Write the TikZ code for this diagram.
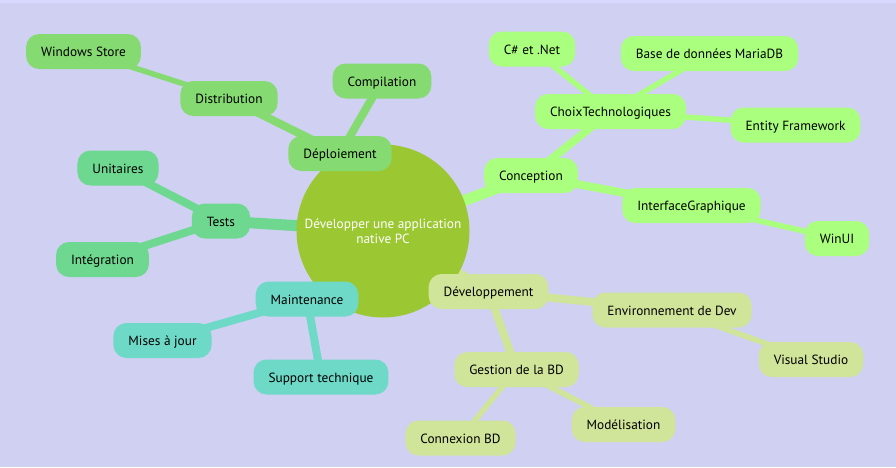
\documentclass[tikz,border=0pt]{standalone}
\usepackage{fontspec}
\setmainfont{PT Sans}
\usetikzlibrary{backgrounds}

\definecolor{bgcol}{HTML}{D0D0F2}
\definecolor{topcol}{HTML}{D8D8FF}
\definecolor{rootcol}{HTML}{9BC832}
\definecolor{depcol}{HTML}{86DA72}
\definecolor{testcol}{HTML}{6ED890}
\definecolor{maintcol}{HTML}{6FD9C8}
\definecolor{concol}{HTML}{ABFF7E}
\definecolor{devcol}{HTML}{D0E49A}

\begin{document}
\begin{tikzpicture}[
        x=1pt, y=-1pt,
        rootnode/.style={circle, fill=rootcol, minimum size=173pt, inner sep=0pt, align=center, text=white, font=\fontsize{13.3}{15}\selectfont},
        topic/.style={rectangle, rounded corners=13pt, minimum height=35pt, inner xsep=15pt, text height=12pt, text depth=2pt, font=\fontsize{13.3}{15}\selectfont},
        linkA/.style={line width=11pt},
        linkB/.style={line width=8pt},
        linkC/.style={line width=5.5pt}
    ]

    \useasboundingbox (0,0) rectangle (896,467);

    % Centre
    \node[rootnode] (root) at (383, 231) {Développer une application\\native PC};

    % Déploiement branch
    \node[topic, fill=depcol] (deploy) at (340, 153.5) {Déploiement};
    \node[topic, fill=depcol] (compil) at (382, 81) {Compilation};
    \node[topic, fill=depcol] (distrib) at (229, 98.5) {Distribution};
    \node[topic, fill=depcol] (winstore) at (83.5, 51.5) {Windows Store};

    % Tests branch
    \node[topic, fill=testcol] (tests) at (221, 221) {Tests};
    \node[topic, fill=testcol] (unit) at (118, 168) {Unitaires};
    \node[topic, fill=testcol] (integ) at (102.5, 259.5) {Intégration};

    % Maintenance branch
    \node[topic, fill=maintcol] (maint) at (307, 299) {Maintenance};
    \node[topic, fill=maintcol] (updates) at (162.5, 340.5) {Mises à jour};
    \node[topic, fill=maintcol] (support) at (321, 377) {Support technique};

    % Conception branch
    \node[topic, fill=concol] (concept) at (531, 175.5) {Conception};
    \node[topic, fill=concol] (choix) at (610.5, 111.5) {ChoixTechnologiques};
    \node[topic, fill=concol] (csharp) at (532, 49) {C\# et .Net};
    \node[topic, fill=concol] (mariadb) at (709.5, 53.5) {Base de données MariaDB};
    \node[topic, fill=concol] (entity) at (795.5, 125) {Entity Framework};
    \node[topic, fill=concol] (gui) at (691.5, 205.5) {InterfaceGraphique};
    \node[topic, fill=concol] (winui) at (837, 238.5) {WinUI};

    % Développement branch
    \node[topic, fill=devcol] (dev) at (488.5, 291.5) {Développement};
    \node[topic, fill=devcol] (devenv) at (672, 310) {Environnement de Dev};
    \node[topic, fill=devcol] (vstudio) at (811, 359.5) {Visual Studio};
    \node[topic, fill=devcol] (dbmgmt) at (516.5, 369.5) {Gestion de la BD};
    \node[topic, fill=devcol] (model) at (623.5, 424.5) {Modélisation};
    \node[topic, fill=devcol] (dbconn) at (460.5, 438) {Connexion BD};

    % Links
    \begin{scope}[on background layer]
        \fill[bgcol] (0,0) rectangle (896,467);
        \fill[topcol] (0,0) rectangle (896,3);
        \draw[linkA, depcol] (root.center) -- (deploy.center);
        \draw[linkB, depcol] (deploy.center) -- (compil.center);
        \draw[linkB, depcol] (deploy.center) -- (distrib.center);
        \draw[linkC, depcol] (distrib.center) -- (winstore.center);
        \draw[linkA, testcol] (root.center) -- (tests.center);
        \draw[linkB, testcol] (tests.center) -- (unit.center);
        \draw[linkB, testcol] (tests.center) -- (integ.center);
        \draw[linkA, maintcol] (root.center) -- (maint.center);
        \draw[linkB, maintcol] (maint.center) -- (updates.center);
        \draw[linkB, maintcol] (maint.center) -- (support.center);
        \draw[linkA, concol] (root.center) -- (concept.center);
        \draw[linkB, concol] (concept.center) -- (choix.center);
        \draw[linkC, concol] (choix.center) -- (csharp.center);
        \draw[linkC, concol] (choix.center) -- (mariadb.center);
        \draw[linkC, concol] (choix.center) -- (entity.center);
        \draw[linkB, concol] (concept.center) -- (gui.center);
        \draw[linkC, concol] (gui.center) -- (winui.center);
        \draw[linkA, devcol] (root.center) -- (dev.center);
        \draw[linkB, devcol] (dev.center) -- (devenv.center);
        \draw[linkC, devcol] (devenv.center) -- (vstudio.center);
        \draw[linkB, devcol] (dev.center) -- (dbmgmt.center);
        \draw[linkC, devcol] (dbmgmt.center) -- (model.center);
        \draw[linkC, devcol] (dbmgmt.center) -- (dbconn.center);
    \end{scope}

    \end{tikzpicture}
\end{document}
